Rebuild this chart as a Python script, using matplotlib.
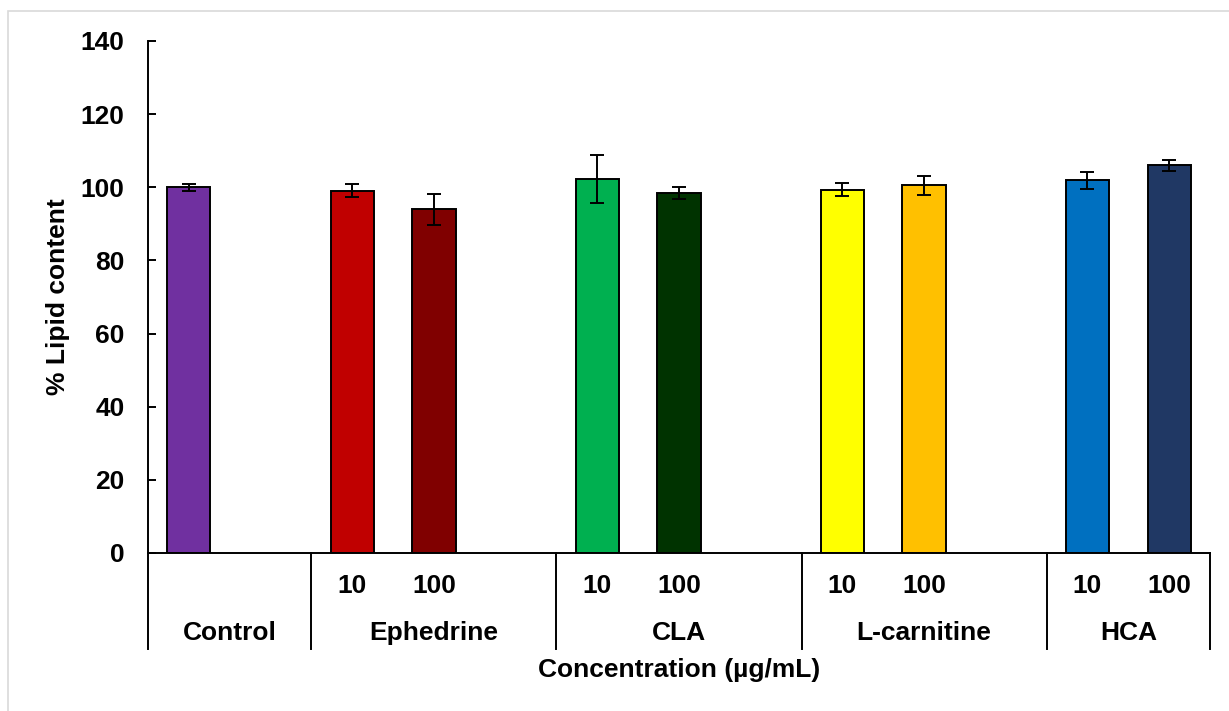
import matplotlib
matplotlib.use("Agg")
from matplotlib import pyplot as plt
from matplotlib.patches import Rectangle

plt.rcParams['font.family'] = ['Liberation Sans', 'DejaVu Sans']
plt.rcParams['font.weight'] = 'bold'
plt.rcParams['font.size'] = 19

# data
groups = ["Control", "Ephedrine", "CLA", "L-carnitine", "HCA"]
group_slots = [2, 3, 3, 3, 2]
bar_conc = [[""], ["10", "100"], ["10", "100"], ["10", "100"], ["10", "100"]]
values = [100.0, 99.1, 94.0, 102.3, 98.4, 99.3, 100.6, 101.9, 106.0]
errors = [1.0, 1.8, 4.2, 6.5, 1.6, 1.75, 2.6, 2.4, 1.5]
colors = ["#7030A0", "#C00000", "#800000", "#00B050", "#003300",
          "#FFFF00", "#FFC000", "#0070C0", "#203864"]

# slot positions of the bars
xpos = []
xlabels = []
starts = []
s = 0
for n, concs in zip(group_slots, bar_conc):
    starts.append(s)
    for i, c in enumerate(concs):
        xpos.append(s + i)
        xlabels.append(c)
    s += n
n_slots = s

fig = plt.figure(figsize=(12.29, 7.11), dpi=100)
ax = fig.add_axes([148/1229, 1 - 553/711, 1062/1229, 512/711])

ax.bar(xpos, values, width=0.53, color=colors, edgecolor="black", linewidth=1.4, zorder=2)
ax.errorbar(xpos, values, yerr=errors, fmt="none", ecolor="black",
            elinewidth=1.4, capsize=5, capthick=1.4, zorder=3)

ax.set_xlim(-0.5, n_slots - 0.5)
ax.set_ylim(0, 140)
ax.set_yticks(range(0, 141, 20))
ax.tick_params(axis="y", direction="in", length=6, width=1.4, pad=17, labelsize=19)
ax.set_xticks([])
for sp in ["top", "right"]:
    ax.spines[sp].set_visible(False)
ax.spines["left"].set_linewidth(1.4)
ax.spines["bottom"].set_linewidth(1.4)

trans = ax.get_xaxis_transform()
for x, lab in zip(xpos, xlabels):
    ax.text(x, -0.0645, lab, transform=trans, ha="center", va="center", fontsize=19)
for g, st, n in zip(groups, starts, group_slots):
    ax.text(st + (n - 1) / 2, -0.156, g, transform=trans, ha="center", va="center", fontsize=19)
for b in starts + [n_slots]:
    ax.plot([b - 0.5, b - 0.5], [0, -0.1875], transform=trans, color="black",
            linewidth=1.4, clip_on=False)

ax.text(0.5, -0.2285, "Concentration (µg/mL)", transform=ax.transAxes,
        ha="center", va="center", fontsize=19)
fig.text(58/1229, 1 - 297/711, "% Lipid content", rotation=90,
         ha="center", va="center", fontsize=19)

fig.add_artist(Rectangle((8/1229, -0.1), 1.2, 1.1 - 11/711, transform=fig.transFigure,
                         fill=False, edgecolor="#D9D9D9", linewidth=1.2))

plt.savefig("out.png", dpi=100)
